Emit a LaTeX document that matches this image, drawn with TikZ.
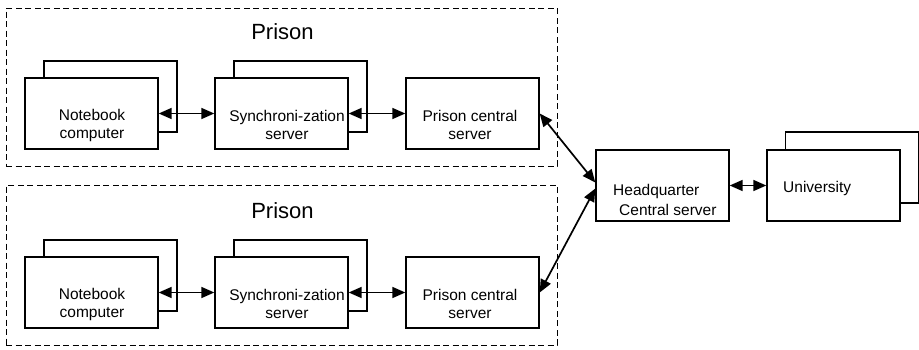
\documentclass[tikz,border=0pt]{standalone}
\usepackage{fontspec}
\setmainfont{Liberation Sans}
\usetikzlibrary{arrows.meta}
\begin{document}
\begin{tikzpicture}[x=1pt,y=-1pt,
  box/.style={draw,line width=1.4pt,fill=white,minimum width=133pt,minimum height=71pt,inner sep=0pt},
  grp/.style={draw,line width=1pt,dash pattern=on 6pt off 3.5pt,minimum width=551pt,inner sep=0pt},
  lbl/.style={font=\fontsize{15.5}{18}\selectfont,align=center,inner sep=0pt},
  lbll/.style={font=\fontsize{15.5}{20}\selectfont,align=left,inner sep=0pt,anchor=west},
  ttl/.style={font=\fontsize{22}{26}\selectfont,inner sep=0pt},
  link/.style={line width=1.7pt,{Triangle[length=13pt,width=11pt]}-{Triangle[length=13pt,width=11pt]}}]
\useasboundingbox (0,0) rectangle (919,349);
% groups
\node[grp,minimum height=158pt] (g1) at (281.5,87) {};
\node[grp,minimum height=160pt] (g2) at (281.5,265) {};
\foreach \r/\dy in {1/0,2/179}{
  \node[ttl] (t\r) at (282.5,32+\dy) {Prison};
  \node[box] (nbb\r) at (110.5,96.5+\dy) {};
  \node[box] (nb\r) at (91.5,113.5+\dy) {};
  \node[box] (syb\r) at (300.5,96.5+\dy) {};
  \node[box] (sy\r) at (281.5,113.5+\dy) {};
  \node[box] (pcs\r) at (472.5,113.5+\dy) {};
  \node[lbl] (nbt\r) at (92,125+\dy) {Notebook\\computer};
  \node[lbl] (syt\r) at (287,125+\dy) {Synchroni-zation\\server};
  \node[lbl] (pcst\r) at (470,125+\dy) {Prison central\\server};
  \draw[link] (nb\r) -- (sy\r);
  \draw[link] (sy\r) -- (pcs\r);
}
\node[box] (hq) at (662.5,185.5) {};
\node[box] (unb) at (852,167.5) {};
\node[box] (un) at (833.5,185.5) {};
\node[lbll] (hqt) at (613,200) {Headquarter\\\hspace*{6pt}Central server};
\node[lbll] (unt) at (783,188) {University};
\draw[link] (hq) -- (un);
\draw[link] (pcs1.east) -- ([yshift=3pt]hq.west);
\draw[link] ([yshift=-3pt]hq.west) -- (pcs2.east);
\end{tikzpicture}
\end{document}
